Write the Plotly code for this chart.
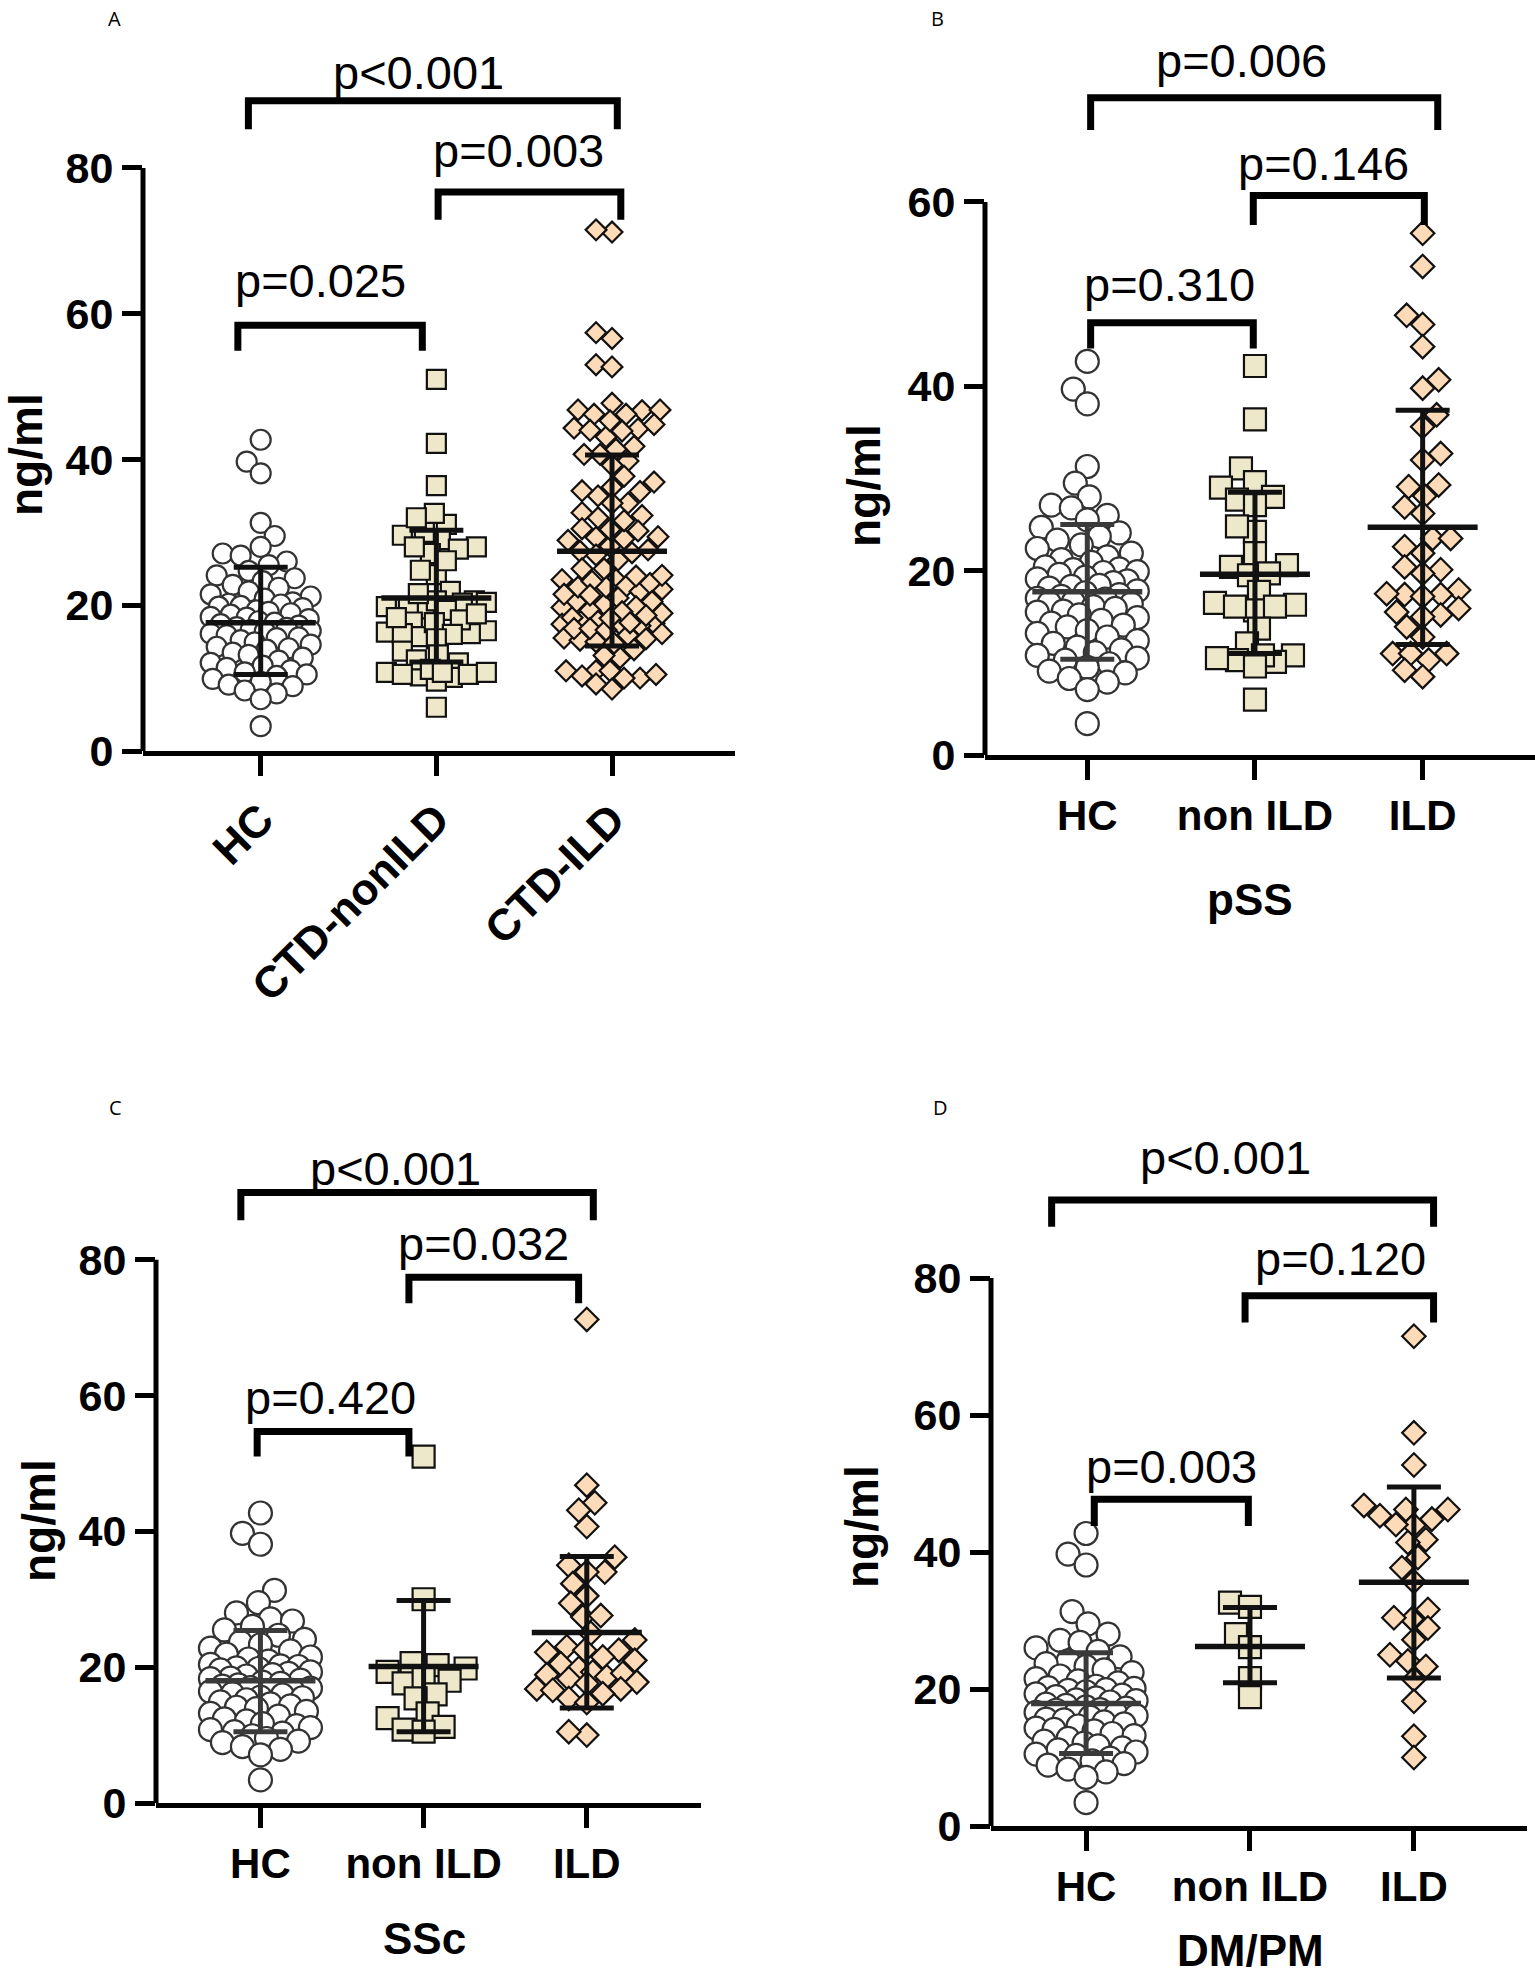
import numpy as np
import plotly.graph_objects as go

W, H_REF = 1535, 1979
# the photographed page comes out ~24 px taller than the window; stretch the
# figure to fill it so the resized picture lines up with the reference
H = 2003
SY = H / H_REF

# --- values (ng/ml) ---
hc = [42.7, 39.7, 38.1, 31.3, 29.5, 28.0, 27.1, 26.8, 26.0, 25.5, 24.7, 24.1, 23.7, 23.3,
      22.8, 22.4, 21.9, 21.5, 21.2, 20.9, 20.4, 20.2, 20.1, 19.9, 19.8, 19.6, 19.3, 19.1,
      18.9, 18.7, 18.4, 18.3, 18.1, 17.8, 17.6, 17.4, 17.2, 17.0, 16.9, 16.6, 16.5, 16.4,
      16.1, 15.9, 15.6, 15.5, 15.2, 14.9, 14.6, 14.3, 14.1, 13.9, 13.5, 13.2, 12.8, 12.4,
      12.1, 11.7, 11.4, 11.1, 10.8, 10.5, 10.3, 9.9, 9.5, 9.1, 8.9, 8.3, 7.9, 7.1, 3.4]

pss_non = [42.2, 36.4, 31.1, 29.0, 29.6, 28.0, 27.7, 27.1, 24.2, 24.8, 21.9, 20.6, 20.4,
           19.5, 19.7, 17.7, 15.7, 16.3, 16.1, 16.5, 16.1, 13.7, 12.1, 10.8, 10.3, 10.1,
           10.5, 10.8, 9.6, 6.0]
pss_ild = [56.6, 53.0, 46.7, 47.7, 44.3, 40.7, 39.8, 36.9, 35.6, 32.0, 32.7, 29.1, 29.3,
           28.1, 26.9, 26.2, 23.5, 23.5, 22.6, 21.9, 20.1, 20.4, 19.7, 17.4, 17.5, 17.9,
           17.4, 17.2, 15.5, 15.9, 15.2, 15.0, 13.9, 12.8, 11.0, 11.0, 10.3, 11.0, 8.5, 9.2]

ssc_non = [51.0, 30.0, 20.6, 19.8, 20.3, 19.3, 17.6, 18.3, 18.0, 16.0, 15.4, 13.2, 12.5,
           11.2, 10.8, 10.5]
ssc_ild = [71.2, 46.8, 44.2, 43.1, 40.7, 36.2, 35.0, 34.0, 34.0, 32.3, 30.5, 29.4, 27.4,
           27.6, 25.0, 24.0, 22.5, 22.2, 23.0, 22.5, 21.5, 20.5, 21.0, 19.8, 19.3, 18.9,
           18.6, 19.1, 18.3, 17.8, 16.8, 16.8, 17.6, 16.6, 15.4, 16.1, 14.8, 10.0, 10.5]

dmpm_non = [32.6, 32.0, 28.0, 26.1, 21.6, 18.8]
dmpm_ild = [71.5, 57.4, 52.7, 46.8, 46.2, 46.2, 45.3, 44.8, 43.9, 44.0, 41.8, 41.4, 39.2,
            37.7, 35.7, 31.6, 30.2, 30.4, 28.9, 27.2, 25.0, 24.1, 23.3, 21.4, 18.2, 13.1, 10.0]

# panel A pools the three diseases
ctd_non = pss_non + ssc_non + dmpm_non
ctd_ild = pss_ild + ssc_ild + dmpm_ild

# mean and SD limits as drawn
means_a, sd_lo_a, sd_hi_a = [17.6, 21.0, 27.4], [10.5, 12.2, 14.4], [25.2, 30.3, 40.6]
means_b, sd_lo_b, sd_hi_b = [17.7, 19.6, 24.7], [10.4, 11.0, 12.0], [25.0, 28.5, 37.4]
means_c, sd_lo_c, sd_hi_c = [18.0, 20.1, 25.1], [10.5, 10.5, 14.0], [25.4, 29.8, 36.3]
means_d, sd_lo_d, sd_hi_d = [17.9, 26.2, 35.6], [10.6, 20.9, 21.6], [25.3, 31.9, 49.5]

labels_a = ["HC", "CTD-nonILD", "CTD-ILD"]
labels_sub = ["HC", "non ILD", "ILD"]

# comparisons: text, left x, right x, bar y, leg end y, text x, text y
comp_a = [("p<0.001", -0.07, 2.03, 89.2, 85.3, 0.90, 92.7),
          ("p=0.003", 1.01, 2.05, 76.7, 72.9, 1.47, 82.0),
          ("p=0.025", -0.13, 0.92, 58.4, 54.9, 0.34, 64.2)]
comp_b = [("p=0.006", 0.02, 2.09, 71.3, 67.8, 0.92, 75.0),
          ("p=0.146", 0.99, 2.01, 60.7, 57.5, 1.41, 63.8),
          ("p=0.310", 0.02, 0.99, 46.9, 44.1, 0.49, 50.7)]
comp_c = [("p<0.001", -0.12, 2.04, 89.9, 85.8, 0.83, 93.0),
          ("p=0.032", 0.91, 1.95, 77.4, 73.6, 1.37, 81.9),
          ("p=0.420", -0.02, 0.91, 54.7, 51.0, 0.43, 59.3)]
comp_d = [("p<0.001", -0.21, 2.12, 91.4, 87.5, 0.85, 97.1),
          ("p=0.120", 0.97, 2.12, 77.4, 73.5, 1.55, 82.4),
          ("p=0.003", 0.05, 0.99, 47.7, 43.8, 0.52, 52.1)]

# --- layout of the four panels, in reference-page pixels ---
panels = [
    dict(key="", letter="A", groups=[hc, ctd_non, ctd_ild], means=means_a, lo=sd_lo_a, hi=sd_hi_a,
         comps=comp_a, labels=labels_a, angle=-45, title=None, ymax_axis=80, xtick=44,
         box=(143, 735, 751, 44), xr=(-0.67, 2.70), yr=(0, 97), sizes=(20, 19, 16),
         letter_xy=(114, 19), ytitle_xy=(26, 455), xtitle_xy=None, hc_bar="#111111"),
    dict(key="2", letter="B", groups=[hc, pss_non, pss_ild], means=means_b, lo=sd_lo_b, hi=sd_hi_b,
         comps=comp_b, labels=labels_sub, angle=0, title="pSS", ymax_axis=60, xtick=42,
         box=(985, 1535, 755, 36), xr=(-0.61, 2.67), yr=(0, 78), sizes=(23, 22, 18),
         letter_xy=(938, 19), ytitle_xy=(864, 486), xtitle_xy=(1250, 899), hc_bar="#3a3a3a"),
    dict(key="3", letter="C", groups=[hc, ssc_non, ssc_ild], means=means_c, lo=sd_lo_c, hi=sd_hi_c,
         comps=comp_c, labels=labels_sub, angle=0, title="SSc", ymax_axis=80, xtick=42,
         box=(156, 701, 1803, 1151), xr=(-0.64, 2.70), yr=(0, 96), sizes=(23, 22, 18),
         letter_xy=(115, 1107), ytitle_xy=(39, 1521), xtitle_xy=(424, 1938), hc_bar="#3a3a3a"),
    dict(key="4", letter="D", groups=[hc, dmpm_non, dmpm_ild], means=means_d, lo=sd_lo_d, hi=sd_hi_d,
         comps=comp_d, labels=labels_sub, angle=0, title="DM/PM", ymax_axis=80, xtick=42,
         box=(991, 1527, 1826, 1141), xr=(-0.58, 2.69), yr=(0, 100), sizes=(23, 22, 18),
         letter_xy=(940, 1107), ytitle_xy=(862, 1527), xtitle_xy=(1250, 1950), hc_bar="#3a3a3a"),
]

symbols = ["circle", "square", "diamond"]
fills = ["white", "#EEE8CB", "#FDDBB8"]
edges = ["#333333", "#111111", "#111111"]
FONT = "Liberation Sans"


def py(v):
    """reference pixel row -> paper y"""
    return 1 - v * SY / H


def swarm(vals, dia, ppx, ppy, max_half):
    """Deterministic beeswarm: offsets (data units) that keep markers apart."""
    vals = np.asarray(vals, float)
    order = np.argsort(vals)
    placed = []
    out = np.zeros(len(vals))
    cands = [0.0]
    for k in range(1, int(max_half // 2) + 1):
        cands += [k * 2.0, -k * 2.0]
    for n, i in enumerate(order):
        y = vals[i] * ppy
        best, best_d = 0.0, -1.0
        chosen = None
        for c in (cands if n % 2 == 0 else [-v for v in cands]):
            d = min((np.hypot(c - px, y - qy) for px, qy in placed), default=1e9)
            if d >= dia * 0.85:
                chosen = c
                break
            if d > best_d:
                best_d, best = d, c
        if chosen is None:
            chosen = best
        placed.append((chosen, y))
        out[i] = chosen / ppx
    return out


fig = go.Figure()
shapes, annotations = [], []

for p in panels:
    k = p["key"]
    xa, ya = "x" + k, "y" + k
    left, right, bottom, top = p["box"]
    ppx = (right - left) / (p["xr"][1] - p["xr"][0])
    ppy = (bottom - top) / (p["yr"][1] - p["yr"][0])

    # points
    for gi, vals in enumerate(p["groups"]):
        size = p["sizes"][gi]
        dia = size * (1.15 if symbols[gi] == "diamond" else 1.0)
        offs = swarm(vals, dia, ppx, ppy, 50)
        fig.add_trace(go.Scatter(
            x=gi + offs, y=vals, mode="markers", xaxis=xa, yaxis=ya, hoverinfo="skip",
            marker=dict(symbol=symbols[gi], size=size, color=fills[gi],
                        line=dict(color=edges[gi], width=2.2)),
            showlegend=False))

    # mean and SD
    for gi in range(3):
        col = p["hc_bar"] if gi == 0 else "#111111"
        m = p["means"][gi]
        fig.add_trace(go.Scatter(
            x=[gi], y=[m], mode="markers", xaxis=xa, yaxis=ya, hoverinfo="skip",
            marker=dict(size=1, color="rgba(0,0,0,0)"),
            error_y=dict(type="data", symmetric=False, array=[p["hi"][gi] - m],
                         arrayminus=[m - p["lo"][gi]], width=27, thickness=5, color=col),
            error_x=dict(type="data", array=[55 / ppx], width=0, thickness=5.5, color=col),
            showlegend=False))

    # comparison brackets
    for text, x0, x1, yb, yl, tx, ty in p["comps"]:
        fig.add_trace(go.Scatter(
            x=[x0, x0, x1, x1], y=[yl, yb, yb, yl], mode="lines", xaxis=xa, yaxis=ya,
            line=dict(color="black", width=7), hoverinfo="skip", showlegend=False))
        annotations.append(dict(xref=xa, yref=ya, x=tx, y=ty, text=text, showarrow=False,
                                xanchor="center", yanchor="middle", yshift=3,
                                font=dict(family=FONT, size=47, color="black")))

    # y axis line only up to the top tick
    shapes.append(dict(type="line", xref=xa + " domain", x0=0, x1=0, yref=ya, y0=0,
                       y1=p["ymax_axis"], line=dict(color="black", width=5)))

    ytick_font = dict(family=FONT, size=43, color="black", weight="bold")
    xtick_font = dict(family=FONT, size=p["xtick"], color="black", weight="bold")
    fig.update_layout(**{
        "xaxis" + k: dict(domain=[left / W, right / W], anchor=ya, range=list(p["xr"]),
                          tickvals=[0, 1, 2], ticktext=p["labels"], tickangle=p["angle"],
                          showline=True, linecolor="black", linewidth=5, ticks="outside",
                          ticklen=20, tickwidth=5, tickcolor="black", showgrid=False,
                          zeroline=False, tickfont=xtick_font, fixedrange=True),
        "yaxis" + k: dict(domain=[py(bottom), py(top)], anchor=xa, range=list(p["yr"]),
                          tickvals=list(range(0, p["ymax_axis"] + 1, 20)), showline=False,
                          ticks="outside", ticklen=20, tickwidth=5, tickcolor="black",
                          showgrid=False, zeroline=False, tickfont=ytick_font, fixedrange=True),
    })

    lx, ly = p["letter_xy"]
    annotations.append(dict(xref="paper", yref="paper", x=lx / W, y=py(ly), text=p["letter"],
                            xanchor="center", yanchor="middle", showarrow=False,
                            font=dict(family="Open Sans", size=20, color="black")))
    tx, ty = p["ytitle_xy"]
    annotations.append(dict(xref="paper", yref="paper", x=tx / W, y=py(ty), text="ng/ml",
                            textangle=-90, xanchor="center", yanchor="middle", showarrow=False,
                            font=dict(family=FONT, size=46, color="black", weight="bold")))
    if p["xtitle_xy"]:
        tx, ty = p["xtitle_xy"]
        annotations.append(dict(xref="paper", yref="paper", x=tx / W, y=py(ty),
                                text=p["title"], xanchor="center", yanchor="middle",
                                showarrow=False,
                                font=dict(family=FONT, size=44, color="black", weight="bold")))

fig.update_layout(width=W, height=H, margin=dict(l=0, r=0, t=0, b=0),
                  paper_bgcolor="white", plot_bgcolor="white",
                  shapes=shapes, annotations=annotations, showlegend=False)

# drop the browser's default page margin so the figure sits at the page origin
fig.write_html("out.html", config={"displayModeBar": False},
               post_script="document.body.style.margin='0';"
                           "document.body.style.overflow='hidden';")
